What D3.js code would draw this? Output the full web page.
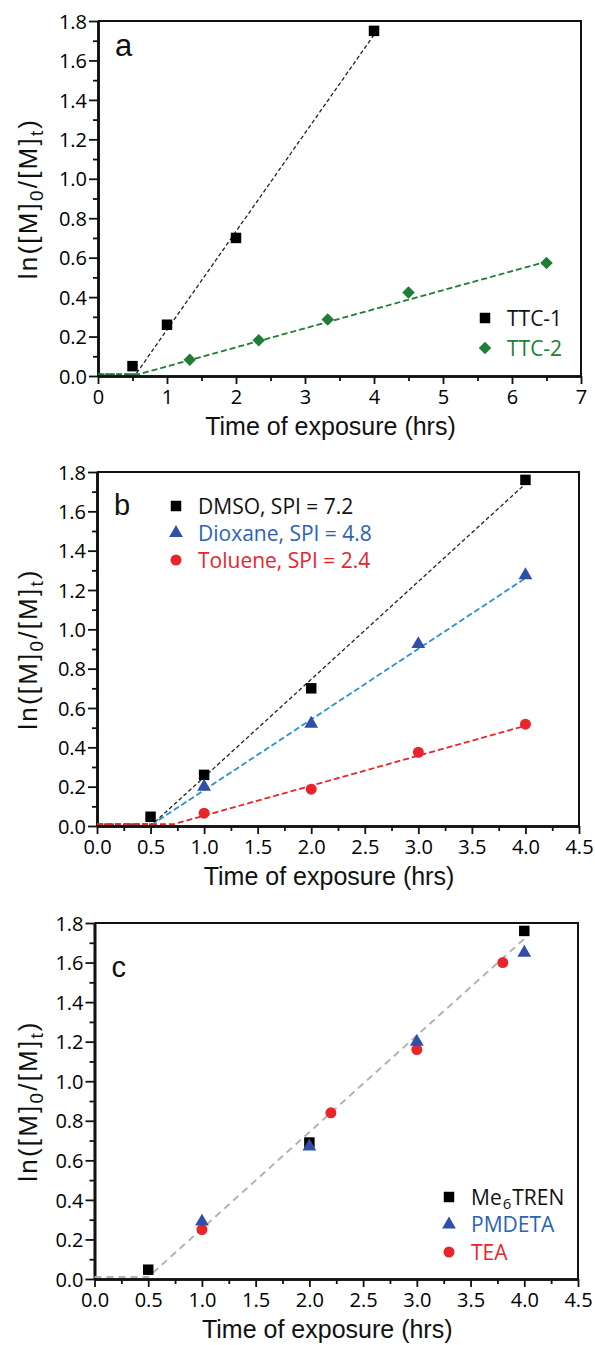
<!DOCTYPE html>
<html>
<head>
<meta charset="utf-8">
<script src="https://cdn.jsdelivr.net/npm/d3@7"></script>
<style>
  body { margin: 0; background: #fff; }
  svg { display: block; }
  .tick text { font-family: "Open Sans", sans-serif; font-size: 20px; fill: #000; }
</style>
</head>
<body>
<svg id="fig" width="595" height="1345"></svg>
<script>
// ---- panel a : TTC-1 / TTC-2 ----
const timeTTC1 = [0.5, 1, 2, 4]
const lnTTC1 = [0.05, 0.26, 0.70, 1.75]
const timeTTC2 = [1.33, 2.33, 3.33, 4.5, 6.5]
const lnTTC2 = [0.083, 0.181, 0.286, 0.423, 0.573]
const fitTTC1 = [[0, 0.01], [0.55, 0.01], [4, 1.73]]
const fitTTC2 = [[0, 0.01], [0.6, 0.01], [6.5, 0.58]]

// ---- panel b : solvents ----
const timeDMSO = [0.5, 1, 2, 4]
const lnDMSO = [0.047, 0.26, 0.70, 1.76]
const timeDiox = [1, 2, 3, 4]
const lnDiox = [0.20, 0.52, 0.925, 1.275]
const timeTol = [1, 2, 3, 4]
const lnTol = [0.065, 0.187, 0.375, 0.518]
const fitDMSO = [[0, 0.01], [0.52, 0.01], [4, 1.74]]
const fitDiox = [[0, 0.01], [0.52, 0.01], [4, 1.26]]
const fitTol = [[0, 0.01], [0.72, 0.01], [4, 0.51]]

// ---- panel c : ligands ----
const timeMe6 = [0.5, 2, 4]
const lnMe6 = [0.047, 0.69, 1.76]
const timePMD = [1, 2, 3, 4]
const lnPMD = [0.29, 0.67, 1.20, 1.65]
const timeTEA = [1, 2.2, 3, 3.8]
const lnTEA = [0.25, 0.84, 1.16, 1.60]
const fitC = [[0, 0.01], [0.5, 0.01], [4, 1.72]]

// ticks
const yMajor = d3.range(0, 1.81, 0.2)
const yMinor = d3.range(0.1, 1.8, 0.2)
const xMajorA = [0, 1, 2, 3, 4, 5, 6, 7]
const xMinorA = [0.5, 1.5, 2.5, 3.5, 4.5, 5.5, 6.5]
const xMajorBC = [0, 0.5, 1, 1.5, 2, 2.5, 3, 3.5, 4, 4.5]
const xMinorBC = [0.25, 0.75, 1.25, 1.75, 2.25, 2.75, 3.25, 3.75, 4.25]

const GREEN = "#1f7d36", BLUE = "#2f4fa8", BLUE_LINE = "#2b8fd6", BLUE_TXT = "#2d62b5", RED = "#e8252b"

const svg = d3.select("#fig")

function symbolPath(kind, size) {
  if (kind == "square") return d3.symbol(d3.symbolSquare, size)()
  if (kind == "diamond") return d3.symbol(d3.symbolSquare, size)()
  if (kind == "triangle") return d3.symbol(d3.symbolTriangle, size)()
  return d3.symbol(d3.symbolCircle, size)()
}
const symSize = {square: 110, diamond: 78, triangle: 82, circle: 95}

function drawPanel(p) {
  const x = d3.scaleLinear().domain(p.xDomain).range([p.left, p.right])
  const y = d3.scaleLinear().domain([0, 1.8]).range([p.bottom, p.top])
  const g = svg.append("g")

  // frame top/right
  g.append("path")
    .attr("d", `M${p.left},${p.top}H${p.right}V${p.bottom}`)
    .attr("fill", "none").attr("stroke", "#111").attr("stroke-width", 2)

  // minor ticks
  g.append("g").attr("transform", `translate(${p.left},0)`)
    .call(d3.axisLeft(y).tickValues(yMinor).tickSize(5).tickFormat("").tickSizeOuter(0))
  g.append("g").attr("transform", `translate(0,${p.bottom})`)
    .call(d3.axisBottom(x).tickValues(p.xMinor).tickSize(5).tickFormat("").tickSizeOuter(0))

  // major ticks + labels
  const ya = g.append("g").attr("transform", `translate(${p.left},0)`)
    .call(d3.axisLeft(y).tickValues(yMajor).tickSize(9).tickPadding(2).tickSizeOuter(0).tickFormat(d3.format(".1f")))
  const xa = g.append("g").attr("transform", `translate(0,${p.bottom})`)
    .call(d3.axisBottom(x).tickValues(p.xMajor).tickSize(8).tickPadding(6).tickSizeOuter(0).tickFormat(d3.format(p.xFmt)))
  g.selectAll(".domain").attr("stroke", "#111").attr("stroke-width", 2.6)
  g.selectAll(".tick line").attr("stroke", "#111").attr("stroke-width", 1.8)
  ya.selectAll(".tick text").attr("dy", "0.36em")

  // fit lines
  const line = d3.line().x(d => x(d[0])).y(d => y(d[1]))
  p.fits.forEach(f => {
    g.append("path").datum(f.pts).attr("d", line)
      .attr("fill", "none").attr("stroke", f.color).attr("stroke-width", f.width)
      .attr("stroke-dasharray", f.dash)
  })

  // markers
  p.series.forEach(s => {
    g.append("g").selectAll("path").data(s.t).join("path")
      .attr("d", symbolPath(s.kind, symSize[s.kind]))
      .attr("transform", (d, i) => `translate(${x(d)},${y(s.v[i])})` + (s.kind == "diamond" ? " rotate(45)" : ""))
      .attr("fill", s.color)
  })

  // panel letter
  g.append("text").attr("x", p.left + 17).attr("y", p.letterY)
    .attr("font-family", "Liberation Sans, Arial, sans-serif").attr("font-size", p.letterSize)
    .attr("fill", "#111").text(p.letter)

  // axis titles
  g.append("text").attr("x", (p.left + p.right) / 2 - 9).attr("y", p.bottom + 59)
    .attr("text-anchor", "middle").attr("font-family", "Liberation Sans, Arial, sans-serif")
    .attr("font-size", 25).attr("fill", "#111").text("Time of exposure (hrs)")
  const yt = g.append("text")
    .attr("transform", `translate(37,${(p.top + p.bottom) / 2}) rotate(-90)`)
    .attr("text-anchor", "middle").attr("font-family", "Liberation Sans, Arial, sans-serif")
    .attr("font-size", 26).attr("letter-spacing", 2.2).attr("fill", "#111")
  yt.append("tspan").text("ln([M]")
  yt.append("tspan").attr("font-size", 19).attr("dy", 6).text("0")
  yt.append("tspan").attr("dy", -6).text("/[M]")
  yt.append("tspan").attr("font-size", 19).attr("dy", 6).text("t")
  yt.append("tspan").attr("dy", -6).text(")")

  // legend
  const lg = g.append("g")
  p.legend.rows.forEach((r, i) => {
    const cy = p.legend.y + i * p.legend.step
    lg.append("path").attr("d", symbolPath(r.kind, symSize[r.kind]))
      .attr("transform", `translate(${p.legend.x},${cy})` + (r.kind == "diamond" ? " rotate(45)" : ""))
      .attr("fill", r.color)
    const t = lg.append("text").attr("x", p.legend.x + p.legend.gap).attr("y", cy + 7.5)
      .attr("font-family", "Open Sans, sans-serif").attr("font-size", 21).attr("fill", r.textColor)
    r.label.forEach(part => {
      if (part.sub) t.append("tspan").attr("font-size", 15).attr("dx", 1).attr("dy", 4).text(part.sub)
      else t.append("tspan").attr("dx", part.up ? 1 : 0).attr("dy", part.up ? -4 : 0).text(part.txt)
    })
  })
}

drawPanel({
  xDomain: [0, 7], left: 98, right: 581, top: 21, bottom: 376,
  xMajor: xMajorA, xMinor: xMinorA, xFmt: "d",
  letter: "a", letterY: 56, letterSize: 31,
  fits: [
    {pts: fitTTC1, color: "#222", width: 1.3, dash: "4,2.5"},
    {pts: fitTTC2, color: GREEN, width: 1.8, dash: "6,3"}
  ],
  series: [
    {t: timeTTC1, v: lnTTC1, kind: "square", color: "#000"},
    {t: timeTTC2, v: lnTTC2, kind: "diamond", color: GREEN}
  ],
  legend: {x: 485, y: 318, step: 30, gap: 22, rows: [
    {kind: "square", color: "#000", textColor: "#111", label: [{txt: "TTC-1"}]},
    {kind: "diamond", color: GREEN, textColor: GREEN, label: [{txt: "TTC-2"}]}
  ]}
})

drawPanel({
  xDomain: [0, 4.5], left: 97, right: 579, top: 472, bottom: 826,
  xMajor: xMajorBC, xMinor: xMinorBC, xFmt: ".1f",
  letter: "b", letterY: 515, letterSize: 29,
  fits: [
    {pts: fitDMSO, color: "#222", width: 1.3, dash: "4,2.5"},
    {pts: fitDiox, color: BLUE_LINE, width: 1.8, dash: "6,3"},
    {pts: fitTol, color: RED, width: 1.8, dash: "6,3"}
  ],
  series: [
    {t: timeDMSO, v: lnDMSO, kind: "square", color: "#000"},
    {t: timeDiox, v: lnDiox, kind: "triangle", color: BLUE},
    {t: timeTol, v: lnTol, kind: "circle", color: RED}
  ],
  legend: {x: 176, y: 506, step: 27, gap: 22, rows: [
    {kind: "square", color: "#000", textColor: "#111", label: [{txt: "DMSO, SPI = 7.2"}]},
    {kind: "triangle", color: BLUE, textColor: BLUE_TXT, label: [{txt: "Dioxane, SPI = 4.8"}]},
    {kind: "circle", color: RED, textColor: RED, label: [{txt: "Toluene, SPI = 2.4"}]}
  ]}
})

drawPanel({
  xDomain: [0, 4.5], left: 94.5, right: 578, top: 923, bottom: 1279,
  xMajor: xMajorBC, xMinor: xMinorBC, xFmt: ".1f",
  letter: "c", letterY: 977, letterSize: 29,
  fits: [
    {pts: fitC, color: "#b3b3b3", width: 2, dash: "7,5"}
  ],
  series: [
    {t: timeTEA, v: lnTEA, kind: "circle", color: RED},
    {t: timeMe6, v: lnMe6, kind: "square", color: "#000"},
    {t: timePMD, v: lnPMD, kind: "triangle", color: BLUE}
  ],
  legend: {x: 449, y: 1197, step: 27.5, gap: 22, rows: [
    {kind: "square", color: "#000", textColor: "#111", label: [{txt: "Me"}, {sub: "6"}, {txt: "TREN", up: true}]},
    {kind: "triangle", color: BLUE, textColor: BLUE_TXT, label: [{txt: "PMDETA"}]},
    {kind: "circle", color: RED, textColor: RED, label: [{txt: "TEA"}]}
  ]}
})
</script>
</body>
</html>
